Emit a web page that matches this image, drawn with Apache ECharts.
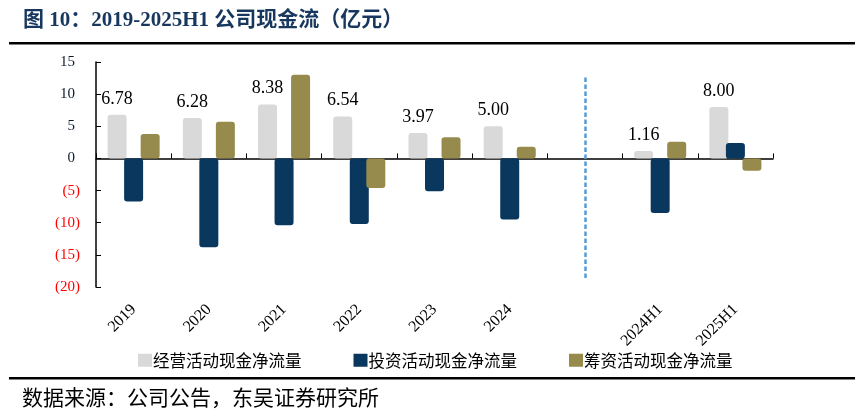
<!DOCTYPE html>
<html>
<head>
<meta charset="utf-8">
<script src="https://cdn.jsdelivr.net/npm/echarts@6/dist/echarts.min.js"></script>
<style>
html,body{margin:0;padding:0;background:#fff;}
#chart{width:862px;height:418px;}
</style>
</head>
<body>
<div id="chart"></div>
<script>
// ---- data ----
const categories = ['2019','2020','2021','2022','2023','2024','','2024H1','2025H1'];
const operatingCF = [6.78, 6.28, 8.38, 6.54, 3.97, 5.00, null, 1.16, 8.00];
const investingCF = [-6.7, -13.8, -10.4, -10.2, -5.1, -9.5, null, -8.5, 2.4];
const financingCF = [3.8, 5.7, 13.0, -4.6, 3.3, 1.8, null, 2.6, -1.9];
const seriesNames = ['经营活动现金净流量','投资活动现金净流量','筹资活动现金净流量'];
const yMin = -20, yMax = 15, yStep = 5;
const dividerIndex = 6;
const dividerRange = [12.6, -18.9];
const titleText = '图 10：2019-2025H1 公司现金流（亿元）';
const sourceText = '数据来源：公司公告，东吴证券研究所';

// ---- style ----
const colors = ['#D9D9D9', '#0A375E', '#968A4C'];
const serif = '"Liberation Serif", "Times New Roman", serif';
const cjk = '"Noto Sans CJK SC", sans-serif';

const chart = echarts.init(document.getElementById('chart'), null, {renderer:'canvas'});

function barSeries(i, data, extra) {
  return Object.assign({
    name: seriesNames[i],
    type: 'bar',
    xAxisIndex: 0,
    data: data,
    barWidth: 19,
    barGap: '-13%',
    itemStyle: {color: colors[i], borderColor: colors[i], borderWidth: 2, borderRadius: 2}
  }, extra || {});
}

const option = {
  animation: false,
  backgroundColor: '#fff',
  grid: {left: 96, right: 89, top: 62, bottom: 131, containLabel: false},
  legend: {
    left: 138, top: 352, padding: 0,
    itemWidth: 12, itemHeight: 11, itemGap: 52,
    icon: 'rect',
    textStyle: {fontFamily: cjk, fontSize: 16.5, color: '#000', padding: [0,0,0,-3]},
    data: seriesNames
  },
  xAxis: [
    {
      type: 'category', data: categories, position: 'bottom',
      axisLine: {show: true, onZero: true, lineStyle: {color: '#000', width: 1.5}},
      axisTick: {show: true, inside: true, length: 5, lineStyle: {color: '#000', width: 1}},
      axisLabel: {show: false},
      splitLine: {show: false}
    },
    {
      type: 'category', data: categories, position: 'bottom',
      axisLine: {show: false, onZero: false},
      axisTick: {show: false},
      axisLabel: {show: true, rotate: 45, margin: 20, fontFamily: serif, fontSize: 16, color: '#000', interval: 0},
      splitLine: {show: false}
    }
  ],
  yAxis: {
    type: 'value', min: yMin, max: yMax, interval: yStep,
    axisLine: {show: true, lineStyle: {color: '#000', width: 1.5}},
    axisTick: {show: true, inside: true, length: 5, lineStyle: {color: '#000'}},
    splitLine: {show: false},
    axisLabel: {
      margin: 16, fontFamily: serif, fontSize: 15,
      formatter: v => v < 0 ? '{n|(' + (-v) + ')}' : '{p|' + v + '}{h|)}',
      rich: {
        n: {color: '#FF0000', fontFamily: serif, fontSize: 15},
        p: {color: '#0d1a2e', fontFamily: serif, fontSize: 15},
        h: {color: 'rgba(0,0,0,0)', fontFamily: serif, fontSize: 15}
      }
    }
  },
  series: [
    barSeries(0, operatingCF, {
      label: {show: true, position: 'top', distance: 7, fontFamily: serif, fontSize: 18, color: '#000',
        formatter: p => p.value == null ? '' : Number(p.value).toFixed(2)}
    }),
    barSeries(1, investingCF, {
      markLine: {
        silent: true, symbol: 'none', label: {show: false},
        lineStyle: {color: '#5B9BD5', type: [4.5, 2.5], width: 2.5},
        data: [[{coord: [dividerIndex, dividerRange[0]]}, {coord: [dividerIndex, dividerRange[1]]}]]
      }
    }),
    barSeries(2, financingCF)
  ],
  graphic: [
    {type: 'text', left: 23, top: 10, style: {text: titleText, fontFamily: serif + ', ' + cjk, fontWeight: 'bold', fontSize: 21, fill: '#17375E'}},
    {type: 'rect', shape: {x: 9, y: 42, width: 846, height: 2.5}, style: {fill: '#000'}},
    {type: 'rect', shape: {x: 9, y: 377, width: 846, height: 2.5}, style: {fill: '#000'}},
    {type: 'text', left: 22, top: 387, style: {text: sourceText, fontFamily: cjk, fontSize: 21, fill: '#000'}}
  ]
};
chart.setOption(option);
</script>
</body>
</html>
